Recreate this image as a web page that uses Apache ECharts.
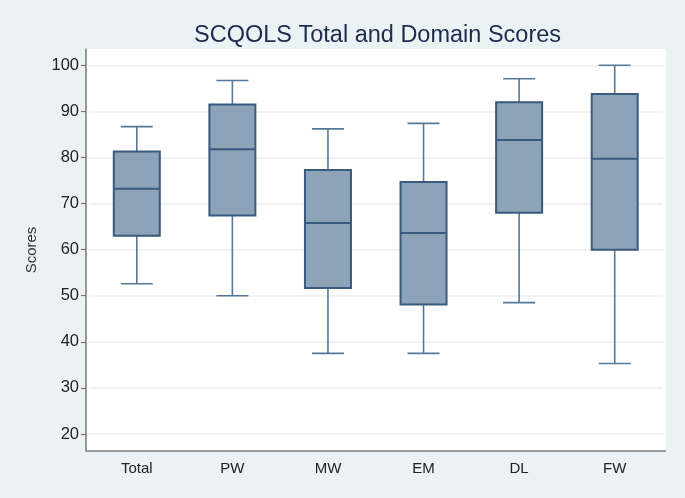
<!DOCTYPE html>
<html>
<head>
<meta charset="utf-8">
<script src="https://cdn.jsdelivr.net/npm/echarts@6/dist/echarts.min.js"></script>
<style>
html,body{margin:0;padding:0;background:#EAF2F3;}
#c{width:685px;height:498px;}
</style>
</head>
<body>
<div id="c"></div>
<script>
// Data: [min, Q1, median, Q3, max]
const categories = ['Total', 'PW', 'MW', 'EM', 'DL', 'FW'];
const totalBox = [52.6, 63.0, 73.2, 81.3, 86.7];
const pwBox    = [50.0, 67.4, 81.8, 91.5, 96.7];
const mwBox    = [37.5, 51.7, 65.8, 77.3, 86.2];
const emBox    = [37.5, 48.1, 63.6, 74.7, 87.4];
const dlBox    = [48.5, 68.0, 83.8, 92.0, 97.1];
const fwBox    = [35.3, 60.0, 79.7, 93.8, 100.0];
const yTicks = [20, 30, 40, 50, 60, 70, 80, 90, 100];

const boxData = [totalBox, pwBox, mwBox, emBox, dlBox, fwBox];
const customData = boxData.map((b, i) => [i].concat(b));

const chart = echarts.init(document.getElementById('c'), null, {renderer: 'canvas'});
const FONT = 'Liberation Sans, Arial, sans-serif';
const W = 685, H = 498;
const plot = {left: 86, top: 49, right: 666, bottom: 451};
const BOX_W = 46, CAP_W = 32;
const BORDER = '#3A5A7E', WHISK = '#56789B', FILL = '#8DA3B8';

function renderBox(params, api) {
  const x = api.coord([api.value(0), 0])[0];
  const yMin = api.coord([api.value(0), api.value(1)])[1];
  const yQ1 = api.coord([api.value(0), api.value(2)])[1];
  const yMed = api.coord([api.value(0), api.value(3)])[1];
  const yQ3 = api.coord([api.value(0), api.value(4)])[1];
  const yMax = api.coord([api.value(0), api.value(5)])[1];
  const hb = BOX_W / 2, hc = CAP_W / 2;
  const wStyle = {stroke: WHISK, lineWidth: 1.6};
  return {
    type: 'group',
    children: [
      {type: 'line', shape: {x1: x, y1: yQ3, x2: x, y2: yMax}, style: wStyle},
      {type: 'line', shape: {x1: x, y1: yQ1, x2: x, y2: yMin}, style: wStyle},
      {type: 'line', shape: {x1: x - hc, y1: yMax, x2: x + hc, y2: yMax}, style: wStyle},
      {type: 'line', shape: {x1: x - hc, y1: yMin, x2: x + hc, y2: yMin}, style: wStyle},
      {type: 'rect', shape: {x: x - hb, y: yQ3, width: BOX_W, height: yQ1 - yQ3}, style: {fill: FILL, stroke: BORDER, lineWidth: 2}},
      {type: 'line', shape: {x1: x - hb, y1: yMed, x2: x + hb, y2: yMed}, style: {stroke: BORDER, lineWidth: 2}}
    ]
  };
}

chart.setOption({
  backgroundColor: '#EAF2F3',
  animation: false,
  title: {
    text: 'SCQOLS Total and Domain Scores',
    left: 189,
    top: 19,
    textStyle: {fontFamily: FONT, fontSize: 23.5, fontWeight: 'normal', color: '#1E2B4E'}
  },
  graphic: [
    {type: 'rect', z: -10, shape: {x: plot.left, y: plot.top, width: plot.right - plot.left, height: plot.bottom - plot.top}, style: {fill: '#FFFFFF'}},
    {type: 'line', z: 5, shape: {x1: plot.left, y1: plot.bottom, x2: plot.right, y2: plot.bottom}, style: {stroke: '#7A7A7A', lineWidth: 1.5}}
  ],
  grid: {left: 89, right: W - 662.5, top: plot.top, bottom: H - plot.bottom},
  xAxis: {
    type: 'category',
    data: categories,
    boundaryGap: true,
    axisLine: {show: false},
    axisTick: {show: false},
    axisLabel: {fontFamily: FONT, fontSize: 15, color: '#222', margin: 10},
    splitLine: {show: false}
  },
  yAxis: {
    type: 'value',
    min: 16.31,
    max: 103.54,
    offset: 3,
    name: 'Scores',
    nameLocation: 'middle',
    nameGap: 47,
    nameTextStyle: {fontFamily: FONT, fontSize: 15, color: '#333'},
    axisLine: {show: true, lineStyle: {color: '#7A7A7A', width: 1.5}},
    axisTick: {show: true, length: 5, customValues: yTicks, lineStyle: {color: '#7A7A7A', width: 1.2}},
    axisLabel: {fontFamily: FONT, fontSize: 16.5, color: '#222', margin: 7, customValues: yTicks},
    splitLine: {show: true, lineStyle: {color: '#EEF3F5', width: 2}}
  },
  series: [{
    type: 'custom',
    data: customData,
    encode: {x: 0, y: [1, 2, 3, 4, 5]},
    renderItem: renderBox,
    silent: true
  }]
});
</script>
</body>
</html>
